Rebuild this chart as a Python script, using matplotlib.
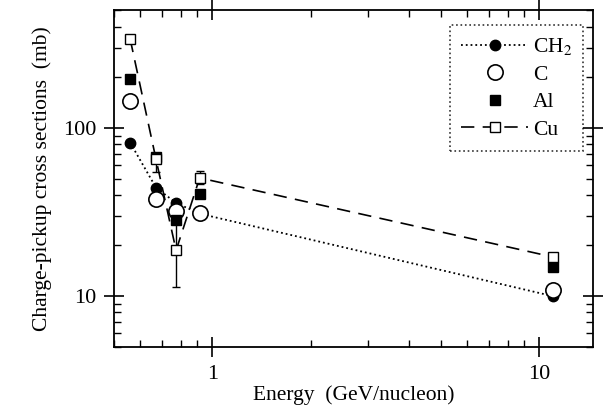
import numpy as np
import matplotlib.pyplot as plt
from matplotlib.ticker import LogLocator, FixedLocator, NullFormatter

plt.rcParams['font.family'] = ['Liberation Serif', 'DejaVu Serif']
plt.rcParams['mathtext.fontset'] = 'stix'

# energies (GeV/nucleon)
energy = [0.56, 0.672, 0.774, 0.914, 11.0]

# cross sections (mb)
ch2 = [81.7, 44.1, 35.8, 30.9, 10.0]
c = [145, 37.6, 31.9, 31.0, 10.9]
al = [194, 67.2, 28.2, 40.2, 14.9]
cu = [337, 65.0, 18.7, 50.4, 17.1]
cu_err_lo = [12, 10, 7.3, 4, 1.0]
cu_err_hi = [12, 4, 13, 5, 1.0]
c_err = [8, 2, 2, 1, 0.5]

fig = plt.figure(figsize=(6.1, 4.08), dpi=100)
ax = fig.add_axes([0.187, 0.15, 0.785, 0.825])

ax.errorbar(energy, cu, yerr=[cu_err_lo, cu_err_hi], fmt='none', ecolor='black',
            elinewidth=1, capsize=3, zorder=2)
ax.errorbar(energy, c, yerr=c_err, fmt='none', ecolor='black', elinewidth=1, capsize=3, zorder=2)

ax.plot(energy, ch2, ':', color='black', lw=1.3, marker='o', ms=7.5,
        mfc='black', mec='black', label='CH$_2$', zorder=3)
ax.plot(energy, c, linestyle='none', marker='o', ms=11, mfc='white',
        mec='black', mew=1.2, label='C', zorder=3)
ax.plot(energy, al, linestyle='none', marker='s', ms=7.5, mfc='black',
        mec='black', label='Al', zorder=3)
ax.plot(energy, cu, '--', color='black', lw=1.2, dashes=(8, 5), marker='s', ms=7.5,
        mfc='white', mec='black', mew=1.0, label='Cu', zorder=4)

ax.set_xscale('log')
ax.set_yscale('log')
ax.set_xlim(0.5, 14.6)
ax.set_ylim(5, 500)

ax.xaxis.set_major_locator(FixedLocator([1, 10]))
ax.set_xticklabels(['1', '10'])
ax.xaxis.set_minor_locator(LogLocator(base=10, subs=np.arange(2, 10)))
ax.xaxis.set_minor_formatter(NullFormatter())
ax.yaxis.set_major_locator(FixedLocator([10, 100]))
ax.set_yticklabels(['10', '100'])
ax.yaxis.set_minor_locator(LogLocator(base=10, subs=np.arange(2, 10)))
ax.yaxis.set_minor_formatter(NullFormatter())

ax.tick_params(which='major', direction='inout', length=14, width=1.2,
               top=True, right=True, labelsize=16, pad=6)
ax.tick_params(which='minor', direction='in', length=5, width=1.0, top=True, right=True)
for s in ax.spines.values():
    s.set_linewidth(1.3)

ax.set_xlabel('Energy  (GeV/nucleon)', fontsize=15.5, labelpad=1)
ax.set_ylabel('Charge-pickup cross sections  (mb)', fontsize=15.5, labelpad=8)

leg = ax.legend(loc='upper right', fontsize=15.5, frameon=True, fancybox=False,
                borderpad=0.5, handlelength=3.1, handletextpad=0.25,
                labelspacing=0.35, borderaxespad=0,
                bbox_to_anchor=(0.98, 0.955))
leg.get_frame().set_edgecolor('black')
leg.get_frame().set_linestyle(':')
leg.get_frame().set_linewidth(1.2)

fig.savefig('out.png', dpi=100)
